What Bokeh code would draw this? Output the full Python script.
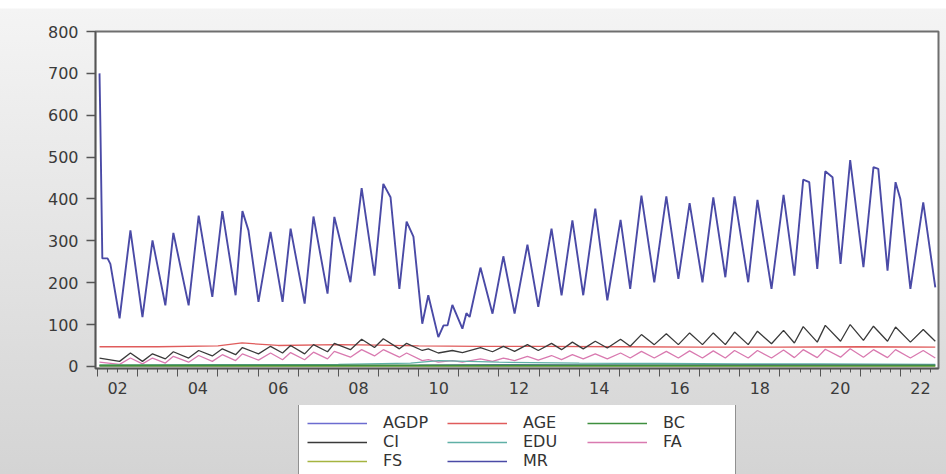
from bokeh.plotting import figure
from bokeh.layouts import column
from bokeh.models import Range1d, FixedTicker, LinearAxis, Legend, LegendItem, CustomLabelingPolicy
from bokeh.embed import file_html
from bokeh.resources import INLINE

# ---------------- data ----------------
series_names = ["AGDP", "AGE", "BC", "CI", "EDU", "FA", "FS", "MR"]

mr_t = [2002.05, 2002.07, 2002.12, 2002.25, 2002.32, 2002.55, 2002.82, 2003.12, 2003.37, 2003.69,
        2003.89, 2004.27, 2004.52, 2004.86, 2005.11, 2005.44, 2005.61, 2005.76, 2006.01, 2006.31,
        2006.61, 2006.81, 2007.16, 2007.38, 2007.73, 2007.90, 2008.30, 2008.58, 2008.90, 2009.12,
        2009.30, 2009.52, 2009.70, 2009.87, 2010.09, 2010.24, 2010.49, 2010.62, 2010.72, 2010.84,
        2011.09, 2011.19, 2011.27, 2011.54, 2011.84, 2012.11, 2012.39, 2012.71, 2012.98, 2013.31,
        2013.56, 2013.83, 2014.10, 2014.40, 2014.70, 2015.03, 2015.27, 2015.55, 2015.87, 2016.17,
        2016.47, 2016.75, 2017.07, 2017.34, 2017.64, 2017.87, 2018.21, 2018.44, 2018.79, 2019.09,
        2019.36, 2019.58, 2019.73, 2019.93, 2020.13, 2020.31, 2020.51, 2020.75, 2021.08, 2021.33,
        2021.45, 2021.68, 2021.88, 2022.00, 2022.25, 2022.57, 2022.87]
mr_v = [700, 587, 258, 258, 245, 115, 325, 118, 301, 146,
        319, 146, 360, 166, 371, 170, 371, 325, 154, 321,
        154, 329, 150, 358, 174, 357, 201, 426, 217, 436,
        404, 185, 346, 310, 102, 170, 70, 98, 98, 147,
        90, 127, 118, 236, 126, 263, 126, 291, 142, 329,
        170, 349, 170, 377, 158, 350, 185, 408, 201, 406,
        209, 390, 201, 404, 213, 406, 201, 398, 185, 410,
        217, 446, 440, 233, 466, 452, 245, 493, 237, 476,
        472, 229, 440, 400, 185, 392, 189]

osc_t = [2002.05, 2002.55, 2002.82, 2003.12, 2003.37, 2003.69, 2003.89, 2004.27, 2004.52, 2004.86,
         2005.11, 2005.44, 2005.61, 2006.01, 2006.31, 2006.61, 2006.81, 2007.16, 2007.38, 2007.73,
         2007.90, 2008.30, 2008.58, 2008.90, 2009.12, 2009.52, 2009.70, 2010.09, 2010.24, 2010.49,
         2010.84, 2011.09, 2011.54, 2011.84, 2012.11, 2012.39, 2012.71, 2012.98, 2013.31, 2013.56,
         2013.83, 2014.10, 2014.40, 2014.70, 2015.03, 2015.27, 2015.55, 2015.87, 2016.17, 2016.47,
         2016.75, 2017.07, 2017.34, 2017.64, 2017.87, 2018.21, 2018.44, 2018.79, 2019.09, 2019.36,
         2019.58, 2019.93, 2020.13, 2020.51, 2020.75, 2021.08, 2021.33, 2021.68, 2021.88, 2022.25,
         2022.57, 2022.87]
ci_v = [20, 12, 32, 12, 30, 18, 35, 20, 38, 25, 42, 28, 45, 30, 48, 32, 50, 30, 52, 35, 55,
        40, 65, 45, 66, 42, 55, 38, 42, 32, 38, 33, 45, 35, 48, 36, 52, 38, 55, 40, 58,
        42, 60, 44, 65, 48, 76, 52, 78, 52, 80, 52, 80, 52, 82, 52, 84, 54, 86, 56, 95,
        58, 98, 60, 100, 62, 96, 60, 94, 58, 88, 60]
fa_v = [10, 5, 20, 6, 20, 8, 24, 10, 26, 12, 28, 14, 30, 15, 32, 16, 33, 16, 34, 18, 36,
        22, 40, 25, 40, 22, 32, 14, 16, 10, 14, 10, 18, 12, 20, 14, 24, 15, 26, 16, 28,
        18, 30, 18, 32, 20, 36, 20, 36, 20, 37, 20, 37, 20, 38, 20, 38, 20, 39, 21, 40,
        21, 41, 22, 42, 22, 40, 21, 40, 20, 38, 20]

age_t = [2002.05, 2003.5, 2005.0, 2005.6, 2006.5, 2008.0, 2009.0, 2010.0, 2011.5, 2013.0,
         2015.0, 2017.0, 2019.0, 2021.0, 2022.87]
age_v = [47, 47, 49, 56, 50, 52, 51, 49, 48, 48, 47, 46, 46, 47, 46]

edu_t = [2002.05, 2005.0, 2008.0, 2009.8, 2010.5, 2012.0, 2014.0, 2016.0, 2018.0, 2020.0, 2022.87]
edu_v = [3, 4, 5, 8, 14, 10, 8, 7, 6, 6, 5]

bc_t = [2002.05, 2008.0, 2014.0, 2022.87]
bc_v = [2, 2, 2, 2]
fs_t = [2002.05, 2008.0, 2014.0, 2022.87]
fs_v = [1, 1, 1, 1]
agdp_t = [2002.05, 2010.0, 2012.0, 2016.0, 2018.5, 2022.87]
agdp_v = [2, 3, 4, 3, 4, 3]

y_ticks = [0, 100, 200, 300, 400, 500, 600, 700, 800]
year_ticks = list(range(2002, 2024))
label_pos = [2002.5, 2004.5, 2006.5, 2008.5, 2010.5, 2012.5, 2014.5, 2016.5, 2018.5, 2020.5, 2022.5]
label_text = ["02", "04", "06", "08", "10", "12", "14", "16", "18", "20", "22"]

colors = {"AGDP": "#6c6cd0", "AGE": "#e05c5c", "BC": "#3f8f3f", "CI": "#3a3a3a",
          "EDU": "#5fb0a6", "FA": "#d97ab0", "FS": "#a5b440", "MR": "#4a4aa6"}

FONT = "DejaVu Sans"

data = {
    "AGDP": (agdp_t, agdp_v), "AGE": (age_t, age_v), "BC": (bc_t, bc_v),
    "CI": (osc_t, ci_v), "EDU": (edu_t, edu_v), "FA": (osc_t, fa_v),
    "FS": (fs_t, fs_v), "MR": (mr_t, mr_v),
}
draw_order = ["AGE", "FA", "CI", "EDU", "FS", "AGDP", "BC", "MR"]


def width_of(name):
    return 1.9 if name == "MR" else (2.0 if name == "BC" else 1.3)


# ---------------- main chart ----------------
p = figure(width=946, height=405,
           x_range=Range1d(2001.95, 2022.95), y_range=Range1d(-5, 800),
           x_axis_type=None, y_axis_type=None,
           output_backend="svg", toolbar_location=None,
           min_border_left=95, min_border_top=31, min_border_right=8, min_border_bottom=37)
p.border_fill_color = None
p.background_fill_color = "white"
p.outline_line_color = "#6e6e6e"
p.outline_line_width = 2

yax = LinearAxis(ticker=FixedTicker(ticks=y_ticks, minor_ticks=[]))
yax.major_tick_out = 9
yax.major_tick_in = 0
yax.minor_tick_out = 0
yax.axis_line_color = "#555555"
yax.axis_line_width = 1.5
yax.major_tick_line_color = "#555555"
yax.major_tick_line_width = 1.5
yax.major_label_standoff = 8
yax.major_label_text_font = FONT
yax.major_label_text_font_size = "16px"
yax.major_label_text_color = "#3a3a3a"
p.add_layout(yax, "left")

quarter_ticks = [y + q / 4 for y in range(2002, 2023) for q in (1, 2, 3)]
xax = LinearAxis(ticker=FixedTicker(ticks=year_ticks, minor_ticks=quarter_ticks))
xax.major_tick_out = 8
xax.major_tick_in = 0
xax.minor_tick_out = 4
xax.minor_tick_in = 0
xax.axis_line_color = "#555555"
xax.axis_line_width = 1.5
xax.major_tick_line_color = "#555555"
xax.minor_tick_line_color = "#555555"
xax.major_label_policy = CustomLabelingPolicy(code="return new Set()")
xax.major_label_standoff = 0
p.add_layout(xax, "below")

xlab = LinearAxis(ticker=FixedTicker(ticks=label_pos, minor_ticks=[]))
xlab.major_label_overrides = dict(zip(label_pos, label_text))
xlab.axis_line_color = None
xlab.major_tick_line_color = None
xlab.minor_tick_line_color = None
xlab.major_tick_out = 0
xlab.major_tick_in = 0
xlab.major_label_standoff = -6
xlab.major_label_text_font = FONT
xlab.major_label_text_font_size = "16px"
xlab.major_label_text_color = "#3a3a3a"
p.add_layout(xlab, "below")

for name in draw_order:
    t, v = data[name]
    p.line(t, v, line_color=colors[name], line_width=width_of(name))

# ---------------- legend strip ----------------
q = figure(width=946, height=69, x_range=Range1d(0, 1), y_range=Range1d(0, 1),
           x_axis_type=None, y_axis_type=None,
           output_backend="svg", toolbar_location=None,
           min_border_left=0, min_border_top=0, min_border_right=0, min_border_bottom=0)
q.border_fill_color = None
q.background_fill_color = None
q.outline_line_color = None
q.xgrid.visible = False
q.ygrid.visible = False

key = {}
for name in series_names:
    t, v = data[name]
    key[name] = q.line(t, v, line_color=colors[name], line_width=1.6)

# legend fills column by column: order items so rows read AGDP AGE BC / CI EDU FA / FS MR
legend_order = ["AGDP", "CI", "FS", "AGE", "EDU", "MR", "BC", "FA"]
legend = Legend(items=[LegendItem(label=n, renderers=[key[n]]) for n in legend_order],
                ncols=3, location=(203, -5))
legend.glyph_width = 60
legend.glyph_height = 14
legend.label_height = 14
legend.label_width = 64
legend.label_standoff = 16
legend.spacing = 0
legend.padding = 8
legend.margin = 0
legend.border_line_color = "#222222"
legend.border_line_width = 1
legend.background_fill_color = "white"
legend.background_fill_alpha = 1
legend.label_text_font = FONT
legend.label_text_font_size = "16px"
legend.label_text_color = "#333333"
q.add_layout(legend, "center")

page = column(p, q, spacing=0)
page.styles = {"background-image": "linear-gradient(to bottom, #ffffff 0px, #ffffff 8px, #f4f4f4 9px, #d4d4d4 100%)"}

open("out.html", "w").write(file_html(page, INLINE))
